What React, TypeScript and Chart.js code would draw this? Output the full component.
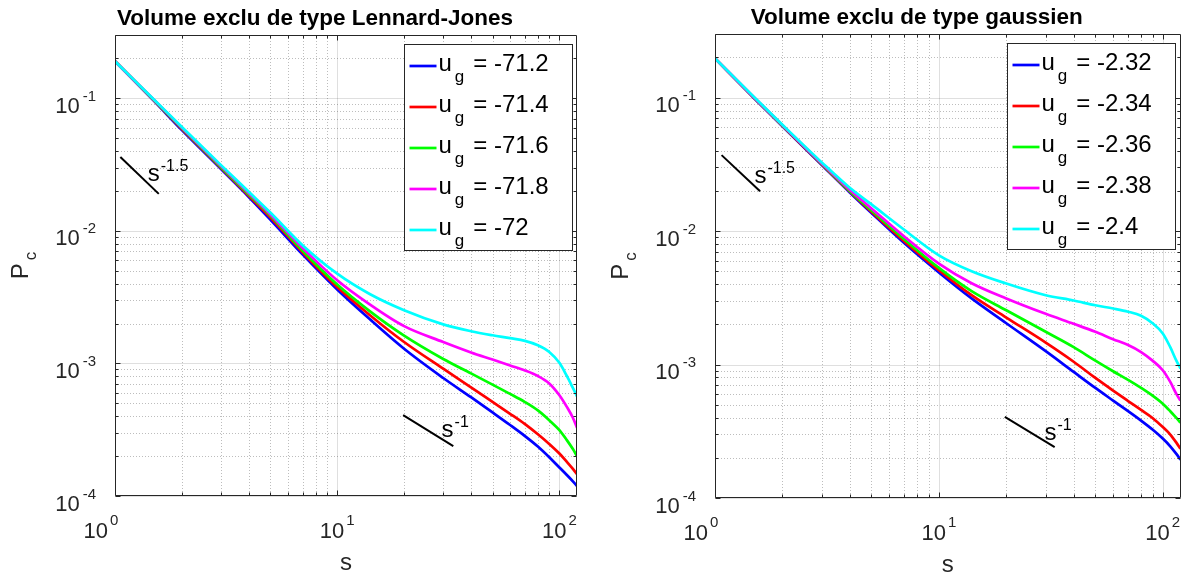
import React, { useEffect, useRef } from 'react';
import { Chart, registerables } from 'chart.js';

Chart.register(...registerables);

// ---------------- data ----------------
const sValues = [1, 1.5, 2, 3, 4, 5, 7, 10, 14, 20, 30, 40, 50, 60, 70, 80, 90, 100, 108, 115, 120];

// Left panel: Lennard-Jones excluded volume
const ljLabels = ['-71.2', '-71.4', '-71.6', '-71.8', '-72'];
const ljU712 = [0.190, 0.0951, 0.0575, 0.0292, 0.0180, 0.01216, 6.61e-3, 3.61e-3, 2.16e-3, 1.29e-3, 7.76e-4, 5.56e-4, 4.27e-4, 3.43e-4, 2.83e-4, 2.36e-4, 1.96e-4, 1.64e-4, 1.44e-4, 1.29e-4, 1.19e-4];
const ljU714 = [0.190, 0.0959, 0.0586, 0.0297, 0.0184, 0.01265, 6.87e-3, 3.77e-3, 2.32e-3, 1.45e-3, 9.12e-4, 6.61e-4, 5.13e-4, 4.17e-4, 3.48e-4, 2.92e-4, 2.47e-4, 2.09e-4, 1.81e-4, 1.60e-4, 1.46e-4];
const ljU716 = [0.190, 0.0966, 0.0593, 0.0302, 0.0188, 0.01303, 7.08e-3, 3.93e-3, 2.48e-3, 1.62e-3, 1.08e-3, 8.41e-4, 6.92e-4, 5.89e-4, 5.11e-4, 4.42e-4, 3.73e-4, 3.14e-4, 2.64e-4, 2.26e-4, 2.0e-4];
const ljU718 = [0.190, 0.0970, 0.0600, 0.0308, 0.0193, 0.01334, 7.41e-3, 4.24e-3, 2.79e-3, 1.91e-3, 1.45e-3, 1.21e-3, 1.07e-3, 9.66e-4, 8.85e-4, 8.04e-4, 7.06e-4, 5.75e-4, 4.70e-4, 3.89e-4, 3.27e-4];
const ljU72 = [0.190, 0.0975, 0.0607, 0.0313, 0.0197, 0.01374, 7.76e-3, 4.75e-3, 3.34e-3, 2.52e-3, 1.97e-3, 1.75e-3, 1.63e-3, 1.55e-3, 1.48e-3, 1.37e-3, 1.22e-3, 1.01e-3, 8.04e-4, 6.53e-4, 5.65e-4];

// Right panel: Gaussian excluded volume
const gaLabels = ['-2.32', '-2.34', '-2.36', '-2.38', '-2.4'];
const gaU232 = [0.197, 0.0986, 0.0611, 0.0313, 0.0195, 0.01368, 8.13e-3, 4.90e-3, 3.13e-3, 2.04e-3, 1.26e-3, 8.81e-4, 6.68e-4, 5.37e-4, 4.47e-4, 3.80e-4, 3.26e-4, 2.79e-4, 2.44e-4, 2.14e-4, 1.94e-4];
const gaU234 = [0.197, 0.0991, 0.0615, 0.0316, 0.0198, 0.01396, 8.41e-3, 5.09e-3, 3.31e-3, 2.25e-3, 1.46e-3, 1.05e-3, 7.94e-4, 6.38e-4, 5.33e-4, 4.57e-4, 3.98e-4, 3.40e-4, 2.99e-4, 2.60e-4, 2.34e-4];
const gaU236 = [0.197, 0.0995, 0.0618, 0.0318, 0.0200, 0.01429, 8.71e-3, 5.30e-3, 3.55e-3, 2.55e-3, 1.76e-3, 1.35e-3, 1.07e-3, 8.91e-4, 7.67e-4, 6.68e-4, 5.85e-4, 5.09e-4, 4.47e-4, 3.98e-4, 3.67e-4];
const gaU238 = [0.197, 0.100, 0.0621, 0.0321, 0.0204, 0.01479, 9.12e-3, 5.71e-3, 4.07e-3, 3.13e-3, 2.40e-3, 2.02e-3, 1.76e-3, 1.55e-3, 1.40e-3, 1.24e-3, 1.07e-3, 9.06e-4, 7.41e-4, 6.03e-4, 5.37e-4];
const gaU24 = [0.197, 0.1005, 0.0627, 0.0327, 0.0211, 0.01585, 0.01023, 6.59e-3, 5.01e-3, 4.05e-3, 3.31e-3, 3.02e-3, 2.78e-3, 2.63e-3, 2.49e-3, 2.32e-3, 2.04e-3, 1.71e-3, 1.35e-3, 1.07e-3, 9.33e-4];

const seriesColors = ['#0000ff', '#ff0000', '#00ff00', '#ff00ff', '#00ffff'];

// slope guide segments and their label anchors
const ljSlope15X = [1.057, 1.574];
const ljSlope15Y = [0.036, 0.019];
const ljSlope1X = [19.8, 33.3];
const ljSlope1Y = [4.07e-4, 2.38e-4];
const ljSlopeLabelAt = [[1.404, 0.0238], [29.5, 2.78e-4]];
const gaSlope15X = [1.07, 1.59];
const gaSlope15Y = [0.0371, 0.0199];
const gaSlope1X = [19.7, 32.9];
const gaSlope1Y = [4.05e-4, 2.41e-4];
const gaSlopeLabelAt = [[1.50, 0.0229], [29.6, 2.71e-4]];
const slopeExponents = ['-1.5', '-1'];

// axes
const xMin = 1;
const xMax = 120;
const yMin = 1e-4;
const yMax = 0.3;
const xTickExponents = [0, 1, 2];
const yTickExponents = [-4, -3, -2, -1];

const ljTitle = 'Volume exclu de type Lennard-Jones';
const gaTitle = 'Volume exclu de type gaussien';
const xAxisLabel = 's';
const yAxisLabel = ['P', 'c'];
const legendSymbol = ['u', 'g'];

// ---------------- styling ----------------
const FONT = '"Liberation Sans", Arial, Helvetica, sans-serif';
const AXIS = '#262626';
const GRID_MAJOR = 'rgba(38,38,38,0.15)';
const GRID_MINOR = 'rgba(38,38,38,0.30)';

type SlopeMark = { xs: number[]; ys: number[]; labelAt: number[]; exponent: string };
type Panel = {
  title: string;
  labels: string[];
  series: number[][];
  slopes: SlopeMark[];
  padding: { left: number; right: number; top: number; bottom: number };
};

function font(size: number, bold = false) {
  return `${bold ? 'bold ' : ''}${size}px ${FONT}`;
}

function majorsIn(min: number, max: number) {
  const out: number[] = [];
  for (let e = Math.floor(Math.log10(min)); e <= Math.ceil(Math.log10(max)); e++) {
    const v = Math.pow(10, e);
    if (v >= min * 0.9999 && v <= max * 1.0001) out.push(v);
  }
  return out;
}

function minorsIn(min: number, max: number) {
  const out: number[] = [];
  for (let e = Math.floor(Math.log10(min)); e <= Math.ceil(Math.log10(max)); e++) {
    for (let k = 2; k <= 9; k++) {
      const v = k * Math.pow(10, e);
      if (v > min * 1.0001 && v < max * 0.9999) out.push(v);
    }
  }
  return out;
}

function drawSup(
  ctx: CanvasRenderingContext2D, base: string, sup: string, x: number, y: number,
  align: 'left' | 'right' | 'center', baseSize: number, supSize: number, raise: number, gap: number
) {
  ctx.font = font(baseSize);
  const wb = ctx.measureText(base).width;
  ctx.font = font(supSize);
  const ws = ctx.measureText(sup).width;
  const total = wb + gap + ws;
  let x0 = x;
  if (align === 'right') x0 = x - total;
  else if (align === 'center') x0 = x - total / 2;
  ctx.textAlign = 'left';
  ctx.textBaseline = 'alphabetic';
  ctx.font = font(baseSize);
  ctx.fillText(base, x0, y);
  ctx.font = font(supSize);
  ctx.fillText(sup, x0 + wb + gap, y - raise);
}

function makePlugin(panel: Panel) {
  return {
    id: 'matlabLook',
    beforeDatasetsDraw(chart: any) {
      const { ctx, chartArea: a, scales } = chart;
      const sx = scales.x;
      const sy = scales.y;
      ctx.save();
      ctx.lineWidth = 1;
      ctx.strokeStyle = GRID_MINOR;
      ctx.setLineDash([1, 2]);
      ctx.beginPath();
      for (const v of minorsIn(xMin, xMax)) {
        const p = Math.round(sx.getPixelForValue(v)) + 0.5;
        ctx.moveTo(p, a.top);
        ctx.lineTo(p, a.bottom);
      }
      for (const v of minorsIn(yMin, yMax)) {
        const p = Math.round(sy.getPixelForValue(v)) + 0.5;
        ctx.moveTo(a.left, p);
        ctx.lineTo(a.right, p);
      }
      ctx.stroke();
      ctx.setLineDash([]);
      ctx.strokeStyle = GRID_MAJOR;
      ctx.beginPath();
      for (const v of majorsIn(xMin, xMax)) {
        const p = Math.round(sx.getPixelForValue(v)) + 0.5;
        ctx.moveTo(p, a.top);
        ctx.lineTo(p, a.bottom);
      }
      for (const v of majorsIn(yMin, yMax)) {
        const p = Math.round(sy.getPixelForValue(v)) + 0.5;
        ctx.moveTo(a.left, p);
        ctx.lineTo(a.right, p);
      }
      ctx.stroke();
      ctx.restore();
    },
    afterDatasetsDraw(chart: any) {
      const { ctx, chartArea: a, scales } = chart;
      const sx = scales.x;
      const sy = scales.y;
      const L = Math.round(a.left) + 0.5;
      const R = Math.round(a.right) - 0.5;
      const T = Math.round(a.top) + 0.5;
      const B = Math.round(a.bottom) - 0.5;
      ctx.save();

      // ticks (inward, all four sides)
      ctx.strokeStyle = AXIS;
      ctx.lineWidth = 1;
      ctx.beginPath();
      const xt = [...majorsIn(xMin, xMax).map((v) => [v, 5]), ...minorsIn(xMin, xMax).map((v) => [v, 3])];
      for (const [v, len] of xt) {
        const p = Math.round(sx.getPixelForValue(v)) + 0.5;
        ctx.moveTo(p, B);
        ctx.lineTo(p, B - len);
        ctx.moveTo(p, T);
        ctx.lineTo(p, T + len);
      }
      const yt = [...majorsIn(yMin, yMax).map((v) => [v, 5]), ...minorsIn(yMin, yMax).map((v) => [v, 3])];
      for (const [v, len] of yt) {
        const p = Math.round(sy.getPixelForValue(v)) + 0.5;
        ctx.moveTo(L, p);
        ctx.lineTo(L + len, p);
        ctx.moveTo(R, p);
        ctx.lineTo(R - len, p);
      }
      ctx.stroke();

      // box
      ctx.beginPath();
      ctx.rect(L, T, R - L, B - T);
      ctx.stroke();

      // tick labels
      ctx.fillStyle = AXIS;
      for (const e of xTickExponents) {
        const p = sx.getPixelForValue(Math.pow(10, e));
        const shift = Math.abs(p - a.left) < 1 ? -14 : 0;
        drawSup(ctx, '10', String(e), p + shift, a.bottom + 42, 'center', 22, 15, 13, 2);
      }
      for (const e of yTickExponents) {
        const p = sy.getPixelForValue(Math.pow(10, e));
        drawSup(ctx, '10', String(e), a.left - 19, p + 14.5, 'right', 22, 15, 12, 3);
      }

      // axis labels
      ctx.font = font(24);
      ctx.textAlign = 'center';
      ctx.textBaseline = 'alphabetic';
      ctx.fillText(xAxisLabel, (a.left + a.right) / 2, a.bottom + 74);

      ctx.save();
      ctx.translate(a.left - 87, (a.top + a.bottom) / 2);
      ctx.rotate(-Math.PI / 2);
      ctx.font = font(24);
      const wP = ctx.measureText(yAxisLabel[0]).width;
      ctx.font = font(17);
      const wc = ctx.measureText(yAxisLabel[1]).width;
      const x0 = -(wP + 3 + wc) / 2;
      ctx.textAlign = 'left';
      ctx.font = font(24);
      ctx.fillText(yAxisLabel[0], x0, 0);
      ctx.font = font(17);
      ctx.fillText(yAxisLabel[1], x0 + wP + 3, 8);
      ctx.restore();

      // slope labels
      ctx.fillStyle = '#000';
      for (const sl of panel.slopes) {
        const px = sx.getPixelForValue(sl.labelAt[0]);
        const py = sy.getPixelForValue(sl.labelAt[1]);
        drawSup(ctx, 's', sl.exponent, px, py, 'left', 24, 16, 10, 1);
      }

      // title
      ctx.fillStyle = '#000';
      ctx.font = font(22.5, true);
      ctx.textAlign = 'center';
      ctx.textBaseline = 'alphabetic';
      ctx.fillText(panel.title, (a.left + a.right) / 2 - 31, a.top - 10);

      // legend
      const boxW = 168;
      const boxH = 206;
      const bx = Math.round(a.right - 5.5 - boxW) + 0.5;
      const by = Math.round(a.top + 9) + 0.5;
      ctx.fillStyle = '#ffffff';
      ctx.fillRect(bx, by, boxW, boxH);
      ctx.strokeStyle = AXIS;
      ctx.lineWidth = 1;
      ctx.strokeRect(bx, by, boxW, boxH);
      panel.labels.forEach((lab, i) => {
        const ly = by + 21.5 + i * 41;
        ctx.strokeStyle = seriesColors[i];
        ctx.lineWidth = 2.7;
        ctx.beginPath();
        ctx.moveTo(bx + 5, ly);
        ctx.lineTo(bx + 32, ly);
        ctx.stroke();
        ctx.fillStyle = '#000';
        ctx.textAlign = 'left';
        const base = ly + 4.5;
        let tx = bx + 34;
        ctx.font = font(24);
        ctx.fillText(legendSymbol[0], tx, base);
        tx += ctx.measureText(legendSymbol[0]).width + 3;
        ctx.font = font(17);
        ctx.fillText(legendSymbol[1], tx, base + 11);
        tx += ctx.measureText(legendSymbol[1]).width + 9;
        ctx.font = font(24);
        ctx.fillText('= ' + lab, tx, base);
      });

      ctx.restore();
    },
  };
}

function makeConfig(panel: Panel): any {
  const orders = [5, 4, 3, 2, 1];
  const datasets: any[] = panel.series.map((ys, i) => ({
    label: 'u_g = ' + panel.labels[i],
    data: sValues.map((s, j) => ({ x: s, y: ys[j] })),
    borderColor: seriesColors[i],
    backgroundColor: seriesColors[i],
    borderWidth: 2.7,
    pointRadius: 0,
    pointHoverRadius: 0,
    cubicInterpolationMode: 'monotone',
    fill: false,
    order: orders[i],
  }));
  panel.slopes.forEach((sl) => {
    datasets.push({
      label: 's^' + sl.exponent,
      data: sl.xs.map((x, j) => ({ x, y: sl.ys[j] })),
      borderColor: '#000000',
      borderWidth: 2,
      pointRadius: 0,
      pointHoverRadius: 0,
      tension: 0,
      fill: false,
      order: 0,
    });
  });
  return {
    type: 'line',
    data: { datasets },
    options: {
      animation: false,
      responsive: true,
      maintainAspectRatio: false,
      events: [],
      layout: { padding: panel.padding, autoPadding: false },
      scales: {
        x: { type: 'logarithmic', min: xMin, max: xMax, display: false },
        y: { type: 'logarithmic', min: yMin, max: yMax, display: false },
      },
      plugins: {
        legend: { display: false },
        title: { display: false },
        tooltip: { enabled: false },
      },
    },
    plugins: [makePlugin(panel)],
  };
}

const leftPanel: Panel = {
  title: ljTitle,
  labels: ljLabels,
  series: [ljU712, ljU714, ljU716, ljU718, ljU72],
  slopes: [
    { xs: ljSlope15X, ys: ljSlope15Y, labelAt: ljSlopeLabelAt[0], exponent: slopeExponents[0] },
    { xs: ljSlope1X, ys: ljSlope1Y, labelAt: ljSlopeLabelAt[1], exponent: slopeExponents[1] },
  ],
  padding: { left: 115, right: 20, top: 35, bottom: 81 },
};

const rightPanel: Panel = {
  title: gaTitle,
  labels: gaLabels,
  series: [gaU232, gaU234, gaU236, gaU238, gaU24],
  slopes: [
    { xs: gaSlope15X, ys: gaSlope15Y, labelAt: gaSlopeLabelAt[0], exponent: slopeExponents[0] },
    { xs: gaSlope1X, ys: gaSlope1Y, labelAt: gaSlopeLabelAt[1], exponent: slopeExponents[1] },
  ],
  padding: { left: 118, right: 14.5, top: 34, bottom: 79 },
};

function PanelChart({ panel }: { panel: Panel }) {
  const ref = useRef<HTMLCanvasElement | null>(null);
  useEffect(() => {
    if (!ref.current) return;
    const chart = new Chart(ref.current, makeConfig(panel));
    return () => chart.destroy();
  }, [panel]);
  return <canvas ref={ref} />;
}

export default function App() {
  return (
    <div style={{ position: 'fixed', left: 0, top: 0, width: 1195, height: 577, background: '#ffffff' }}>
      <div style={{ position: 'absolute', left: 0, top: 0, width: 597, height: 577 }}>
        <PanelChart panel={leftPanel} />
      </div>
      <div style={{ position: 'absolute', left: 597, top: 0, width: 598, height: 577 }}>
        <PanelChart panel={rightPanel} />
      </div>
    </div>
  );
}
